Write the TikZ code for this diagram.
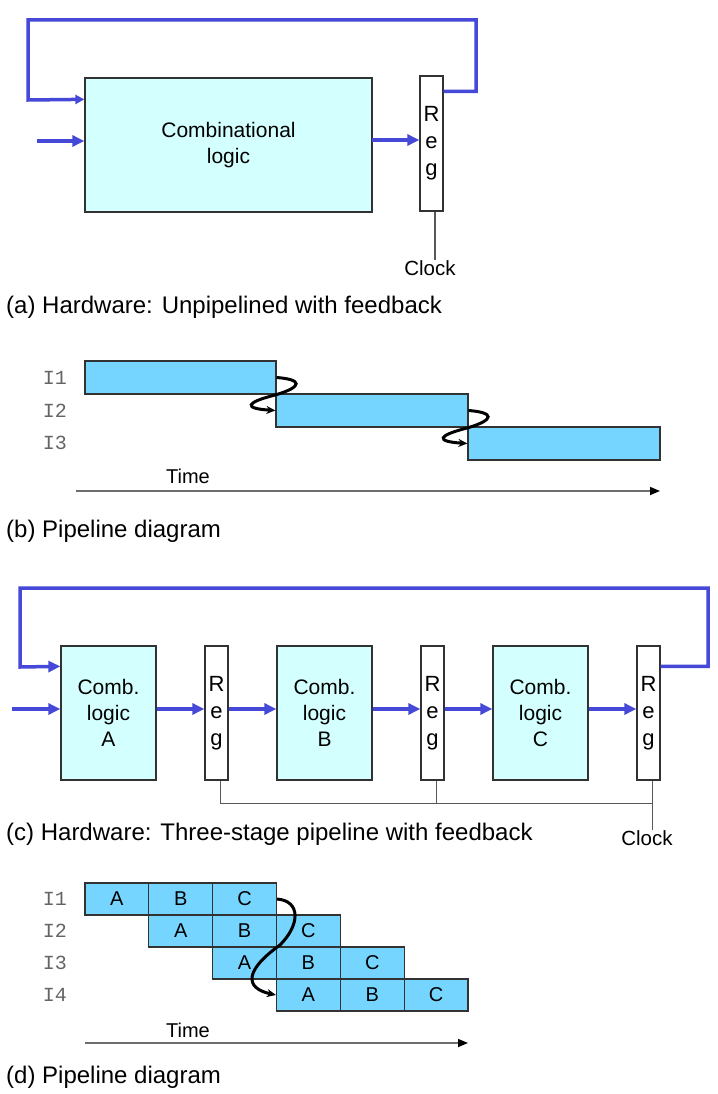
\documentclass[tikz,border=0pt]{standalone}
\usepackage{fontspec}
\setmainfont{Liberation Sans}
\setmonofont{Liberation Mono}
\usetikzlibrary{arrows.meta,calc}
\definecolor{busblue}{RGB}{70,72,216}
\definecolor{combfill}{RGB}{212,255,255}
\definecolor{barblue}{RGB}{117,213,255}
\definecolor{edge}{RGB}{50,50,50}
\definecolor{axisgrey}{RGB}{110,110,110}
\definecolor{labelgrey}{RGB}{100,100,100}
\tikzset{
 combbox/.style={draw=edge, line width=1.3, fill=combfill, align=center, inner sep=0, font=\fontsize{21}{26}\selectfont},
 regbox/.style={draw=edge, line width=1.3, fill=white, align=center, inner sep=0, minimum width=23, font=\fontsize{22}{27}\selectfont},
 bus/.style={draw=busblue, line width=3.5, -{Triangle[length=12,width=11]}},
 feed/.style={draw=busblue, line width=3.5},
 clkline/.style={draw=axisgrey!80!black, line width=1.2},
 clk/.style={font=\fontsize{20.5}{24}\selectfont, inner sep=0},
 caption/.style={anchor=base west, inner sep=0, font=\fontsize{24}{28}\selectfont},
 bar/.style={draw=edge, line width=1.2, fill=barblue, minimum height=33, inner sep=0},
 cell/.style={draw=edge, line width=1.2, fill=barblue, minimum width=63.83, minimum height=32, inner sep=0, font=\fontsize{20}{24}\selectfont},
 instr/.style={font=\ttfamily\fontsize{20}{24}\selectfont, text=labelgrey, inner sep=0},
 timelbl/.style={font=\fontsize{20}{24}\selectfont, inner sep=0},
 timeaxis/.style={draw=axisgrey, line width=1.5, -{Triangle[length=10,width=8,color=black]}},
 wave/.style={draw=black, line width=3, -{Stealth[length=9,width=8]}},
}
\begin{document}
\begin{tikzpicture}[x=1pt,y=-1pt]
\fill[white] (0,0) rectangle (717,1094);
\useasboundingbox (0,0) rectangle (717,1094);

% ---------- (a) ----------
\node[combbox, minimum width=287, minimum height=134] (comb) at (228.5,145) {Combinational\\logic};
\node[regbox, minimum height=135] (reg) at (431.5,143.5) {R\\e\\g};
\coordinate (ina) at (37,141);
\draw[bus] (ina) -- (ina -| comb.west);
\coordinate (outa) at (372,140);
\draw[bus] (outa) -- (outa -| reg.west);
\draw[feed, -{Triangle[length=9,width=9]}] ([yshift=-16]reg.north east) -| (476,20) -| (28,100) -- ([yshift=-22]comb.north west);
\node[clk] (clka) at (430,268) {Clock};
\draw[clkline] ([xshift=3.5]reg.south) -- ([xshift=3.5]reg.south |- clka.north);
\node[caption] (capa) at (6,313) {(a) Hardware: Unpipelined with feedback};

% ---------- (b) ----------
\node[bar, minimum width=191] (b1) at (180.5,377.5) {};
\node[bar, minimum width=192] (b2) at (372,410.5) {};
\node[bar, minimum width=192] (b3) at (564,443.5) {};
\node[instr] (ib1) at (55,378) {I1};
\node[instr] (ib2) at (55,411) {I2};
\node[instr] (ib3) at (55,443) {I3};
\draw[wave] (b1.east) .. controls +(26,2) and +(26,-8) .. (b1.south east)
   .. controls +(-32,8) and +(-32,-2) .. (b2.west);
\draw[wave] (b2.east) .. controls +(26,2) and +(26,-8) .. (b2.south east)
   .. controls +(-32,8) and +(-32,-2) .. (b3.west);
\node[timelbl] (timeb) at (188,476) {Time};
\coordinate (tb0) at (76,491);
\coordinate (tb1) at (660,491);
\draw[timeaxis] (tb0) -- (tb1);
\node[caption] (capb) at (6,537) {(b) Pipeline diagram};

% ---------- (c) ----------
\node[combbox, minimum width=95, minimum height=134] (cA) at (108.5,713) {Comb.\\logic\\A};
\node[regbox, minimum height=134] (r1) at (216.5,713) {R\\e\\g};
\node[combbox, minimum width=95, minimum height=134] (cB) at (324.5,713) {Comb.\\logic\\B};
\node[regbox, minimum height=134] (r2) at (432.5,713) {R\\e\\g};
\node[combbox, minimum width=95, minimum height=134] (cC) at (540.5,713) {Comb.\\logic\\C};
\node[regbox, minimum height=134] (r3) at (648.5,713) {R\\e\\g};
\coordinate (inc) at (12,709);
\draw[bus] (inc) -- (inc -| cA.west);
\draw[bus] ([yshift=4]cA.east) -- ([yshift=4]r1.west);
\draw[bus] ([yshift=4]r1.east) -- ([yshift=4]cB.west);
\draw[bus] ([yshift=4]cB.east) -- ([yshift=4]r2.west);
\draw[bus] ([yshift=4]r2.east) -- ([yshift=4]cC.west);
\draw[bus] ([yshift=4]cC.east) -- ([yshift=4]r3.west);
\draw[feed, -{Triangle[length=12,width=11]}] ([yshift=-21]r3.north east) -| (708,588) -| (20,667) -- ([yshift=-21]cA.north west);
\node[clk] (clkc) at (647,838) {Clock};
\draw[clkline] ([xshift=4]r1.south) -- ++(0,23) -| ([xshift=4]r3.south);
\draw[clkline] ([xshift=4]r2.south) -- ++(0,23);
\draw[clkline] ([xshift=4]r3.south) -- ([xshift=4]r3.south |- clkc.north);
\node[caption] (capc) at (6,840) {(c) Hardware: Three-stage pipeline with feedback};

% ---------- (d) ----------
\foreach \r/\c in {1/0,2/1,3/2,4/3} {
  \foreach \s [count=\k from 0] in {A,B,C} {
    \node[cell] (d\r\s) at ({85+63.83*(\c+\k)+31.915},{899+32*(\r-1)}) {\s};
  }
  \node[instr] (id\r) at (55,{899+32*(\r-1)}) {I\r};
}
\coordinate (dmid) at (280,945);
\draw[wave] (d1C.east) .. controls +(24,2) and +(20,-20) .. (dmid)
   .. controls +(-35,25) and +(-32,-7) .. (d4A.west);
\node[timelbl] (timed) at (188,1030) {Time};
\coordinate (td0) at (85,1043);
\coordinate (td1) at (468,1043);
\draw[timeaxis] (td0) -- (td1);
\node[caption] (capd) at (6,1083) {(d) Pipeline diagram};
\end{tikzpicture}
\end{document}
